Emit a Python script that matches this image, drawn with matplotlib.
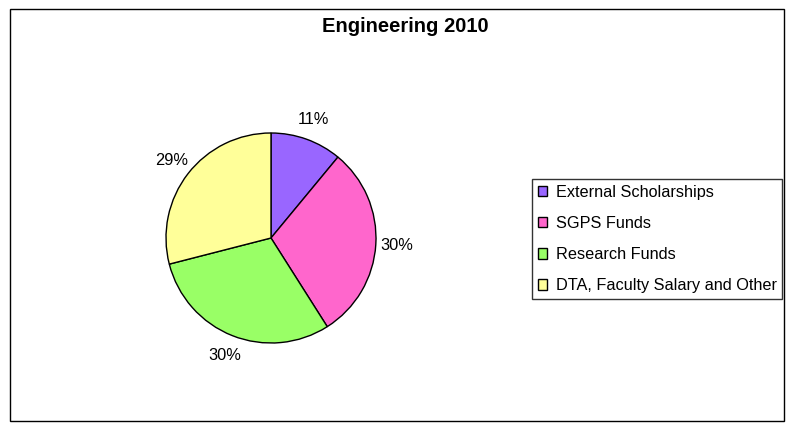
import matplotlib.pyplot as plt
from matplotlib.patches import Patch, Rectangle

plt.rcParams['font.family'] = ['Liberation Sans', 'DejaVu Sans']

title = 'Engineering 2010'
categories = ['External Scholarships', 'SGPS Funds', 'Research Funds',
              'DTA, Faculty Salary and Other']
shares = [11, 30, 30, 29]
colors = ['#9966FF', '#FF66CC', '#99FF66', '#FFFF99']

fig = plt.figure(figsize=(7.93, 4.25), dpi=100)

# outer chart border
fig.patches.append(Rectangle((10 / 793, 4 / 425), 774 / 793, 412 / 425,
                             transform=fig.transFigure, fill=False,
                             edgecolor='black', linewidth=1))

fig.text(405 / 793, 1 - 27 / 425, title, ha='center', va='center',
         fontsize=14.5, fontweight='bold')

# pie axes: centre ~ (271, 238) px, radius ~105 px
ax = fig.add_axes([(271 - 105) / 793, 1 - (238 + 105) / 425, 210 / 793, 210 / 425])
wedges, texts = ax.pie(shares, colors=colors, startangle=90, counterclock=False,
                       labels=[f'{v}%' for v in shares], labeldistance=1.2,
                       wedgeprops=dict(edgecolor='black', linewidth=1),
                       textprops=dict(fontsize=11.8))
for t in texts:
    t.set_ha('center')
    t.set_va('center')
ax.set_xlim(-1, 1)
ax.set_ylim(-1, 1)
ax.set_aspect('equal')

handles = [Patch(facecolor=c, edgecolor='black', linewidth=1) for c in colors]
leg = fig.legend(handles, categories, loc='center left',
                 bbox_to_anchor=(532 / 793, 1 - 239 / 425),
                 fontsize=11.7, frameon=True, fancybox=False, shadow=False,
                 handlelength=0.6, handleheight=0.6, handletextpad=0.5,
                 labelspacing=1.0, borderpad=0.35, borderaxespad=0)
leg.get_frame().set_edgecolor('black')
leg.get_frame().set_linewidth(1)

fig.savefig('out.png', dpi=100)
